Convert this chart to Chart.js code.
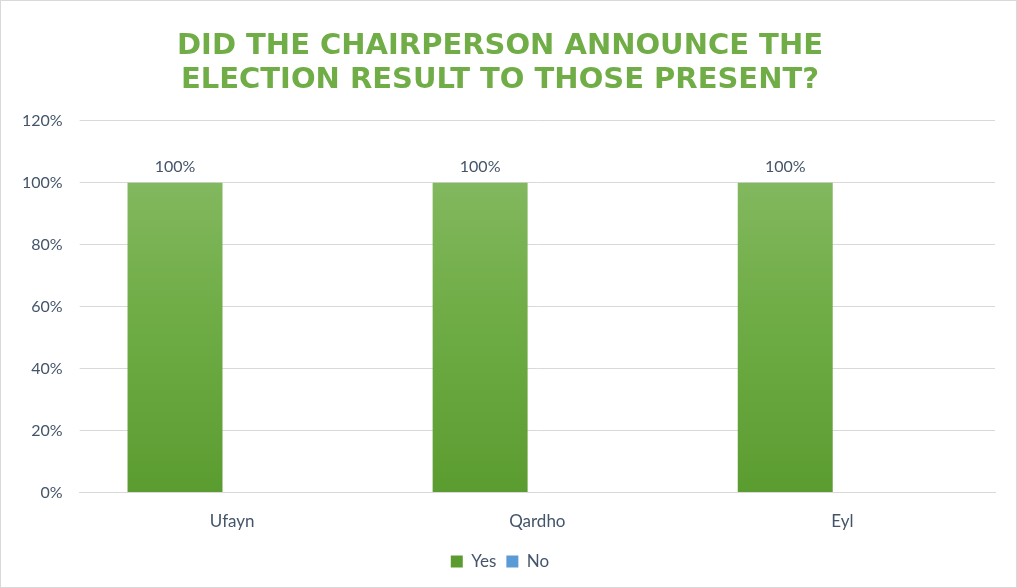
<!DOCTYPE html>
<html>
<head>
<meta charset="utf-8">
<script src="https://cdn.jsdelivr.net/npm/chart.js@4.4.0/dist/chart.umd.min.js"></script>
<style>
  html, body { margin: 0; padding: 0; background: #fff; }
  #wrap { position: relative; width: 1017px; height: 588px; box-sizing: border-box; border: 1px solid #d9d9d9; }
  canvas { display: block; }
</style>
</head>
<body>
<div id="wrap"><canvas id="electionCanvas" width="1015" height="586"></canvas></div>
<script>
var categories = ['Ufayn', 'Qardho', 'Eyl'];
var yesValues = [1.0, 1.0, 1.0];
var noValues = [0, 0, 0];
var titleLines = ['DID THE CHAIRPERSON ANNOUNCE THE', 'ELECTION RESULT TO THOSE PRESENT?'];

var labelColor = '#44546a';
var labelFont = 'Lato, "Open Sans", sans-serif';

function pct(v) {
    return Math.round(v * 100) + '%';
}

// green bars fade from light at the top to darker at the base
function greenFill(context) {
    var chart = context.chart;
    var area = chart.chartArea;
    if (!area) {
        return '#70ad47';
    }
    var g = chart.ctx.createLinearGradient(0, area.top, 0, area.bottom);
    g.addColorStop(0, '#8bbd6a');
    g.addColorStop(0.5, '#70ad47');
    g.addColorStop(1, '#5b9c30');
    return g;
}

// value labels above the Yes bars
var valueLabels = {
    id: 'valueLabels',
    afterDatasetsDraw: function (chart) {
        var ctx = chart.ctx;
        var meta = chart.getDatasetMeta(0);
        ctx.save();
        ctx.font = '16px ' + labelFont;
        ctx.fillStyle = labelColor;
        ctx.textAlign = 'center';
        ctx.textBaseline = 'bottom';
        meta.data.forEach(function (bar, i) {
            ctx.fillText(pct(yesValues[i]), bar.x, bar.y - 8);
        });
        ctx.restore();
    }
};

var ctx = document.getElementById('electionCanvas');
var electionChart = new Chart(ctx, {
    type: 'bar',
    data: {
        labels: categories,
        datasets: [{
            label: 'Yes',
            data: yesValues,
            backgroundColor: greenFill,
            categoryPercentage: 0.75,
            barPercentage: 0.83
        }, {
            label: 'No',
            data: noValues,
            backgroundColor: '#5b9bd5',
            categoryPercentage: 0.75,
            barPercentage: 0.83
        }]
    },
    options: {
        responsive: false,
        animation: false,
        layout: {
            padding: { left: 4, right: 21, top: 29, bottom: 7 }
        },
        plugins: {
            title: {
                display: true,
                text: titleLines,
                color: '#70ad47',
                font: { family: '"DejaVu Sans", sans-serif', size: 29, weight: 'bold', lineHeight: 1.15 },
                padding: { top: 0, bottom: 24 }
            },
            legend: {
                position: 'bottom',
                labels: {
                    boxWidth: 12,
                    boxHeight: 12,
                    padding: 10,
                    color: labelColor,
                    font: { family: labelFont, size: 17 }
                }
            },
            tooltip: { enabled: false }
        },
        scales: {
            x: {
                grid: { display: false },
                border: { color: '#d9d9d9' },
                ticks: {
                    color: labelColor,
                    padding: 11,
                    font: { family: labelFont, size: 17 }
                }
            },
            y: {
                min: 0,
                max: 1.2,
                border: { display: false },
                grid: { color: '#d9d9d9', tickLength: 0 },
                ticks: {
                    stepSize: 0.2,
                    color: labelColor,
                    padding: 17,
                    font: { family: labelFont, size: 16 },
                    callback: function (v) { return pct(v); }
                }
            }
        }
    },
    plugins: [valueLabels]
});
</script>
</body>
</html>
